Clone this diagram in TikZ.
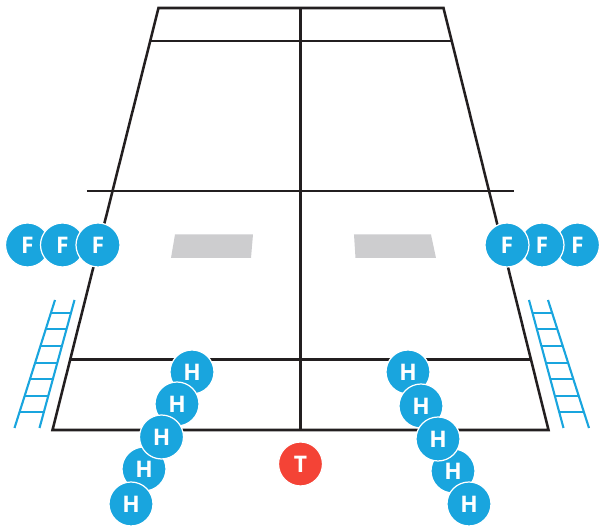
\documentclass[tikz,border=0pt]{standalone}
\usepackage{fontspec}
\setsansfont{Open Sans}
\usetikzlibrary{calc}
\definecolor{courtblack}{HTML}{231F20}
\definecolor{playerblue}{HTML}{19A5DE}
\definecolor{playerred}{HTML}{F44336}
\definecolor{zonegray}{HTML}{CDCDCF}
\tikzset{
    player/.style={circle, draw=white, line width=0.7pt, fill=playerblue, text=white,
        minimum size=0.88cm, inner sep=0pt, outer sep=0pt,
        font=\sffamily\bfseries\fontsize{13}{13}\selectfont},
    courtline/.style={draw=courtblack, line width=1.45pt},
    ladderline/.style={draw=playerblue, line width=1.2pt}
}
\begin{document}
\begin{tikzpicture}[x=0.02cm, y=-0.02cm]
    \useasboundingbox (0,0) rectangle (600,526);

    % Terrain
    \draw[courtline, line join=miter] (52.5,430) -- (548.5,430) -- (443.5,8) -- (158.5,8) -- cycle;
    \draw[courtline] (151,41) -- (451,41);
    \draw[courtline] (87,191) -- (514,191);
    \draw[courtline] (71,359.5) -- (531,359.5);
    \draw[courtline] (300.5,8) -- (300.5,430);

    % Zones grises
    \fill[zonegray] (175,234.5) -- (253,234.5) -- (251,258) -- (171,258) -- cycle;
    \fill[zonegray] (354,234.5) -- (431,234.5) -- (436,258) -- (355.5,258) -- cycle;

    % Echelle gauche
    \coordinate (ll1) at (55,300);
    \coordinate (ll2) at (14.5,428);
    \coordinate (lr1) at (74.5,300);
    \coordinate (lr2) at (39.5,428);
    \draw[ladderline] (ll1) -- (ll2);
    \draw[ladderline] (lr1) -- (lr2);
    \foreach \t in {0.105,0.23,0.36,0.49,0.62,0.75,0.875}
        \draw[ladderline] ($(ll1)!\t!(ll2)$) -- ($(lr1)!\t!(lr2)$);

    % Echelle droite
    \coordinate (rl1) at (529,300);
    \coordinate (rl2) at (563.5,428);
    \coordinate (rr1) at (548,300);
    \coordinate (rr2) at (589,428);
    \draw[ladderline] (rl1) -- (rl2);
    \draw[ladderline] (rr1) -- (rr2);
    \foreach \t in {0.105,0.23,0.36,0.49,0.62,0.75,0.875}
        \draw[ladderline] ($(rl1)!\t!(rl2)$) -- ($(rr1)!\t!(rr2)$);

    % Joueurs F
    \node[player] (fl1) at (27.5,245) {F};
    \node[player] (fl2) at (62.5,245) {F};
    \node[player] (fl3) at (98,245) {F};
    \node[player] (fr3) at (577.5,245) {F};
    \node[player] (fr2) at (542,245) {F};
    \node[player] (fr1) at (507,245) {F};

    % Joueurs H
    \node[player] (hl1) at (192,372) {H};
    \node[player] (hl2) at (177,404) {H};
    \node[player] (hl4) at (144,469) {H};
    \node[player] (hl3) at (161.5,437) {H};
    \node[player] (hl5) at (131,504) {H};
    \node[player] (hr1) at (408,372) {H};
    \node[player] (hr2) at (421,406) {H};
    \node[player] (hr4) at (453,471) {H};
    \node[player] (hr3) at (438,439) {H};
    \node[player] (hr5) at (469,504) {H};

    % Joueur T
    \node[player, fill=playerred] (t) at (300.5,464) {T};
\end{tikzpicture}
\end{document}
